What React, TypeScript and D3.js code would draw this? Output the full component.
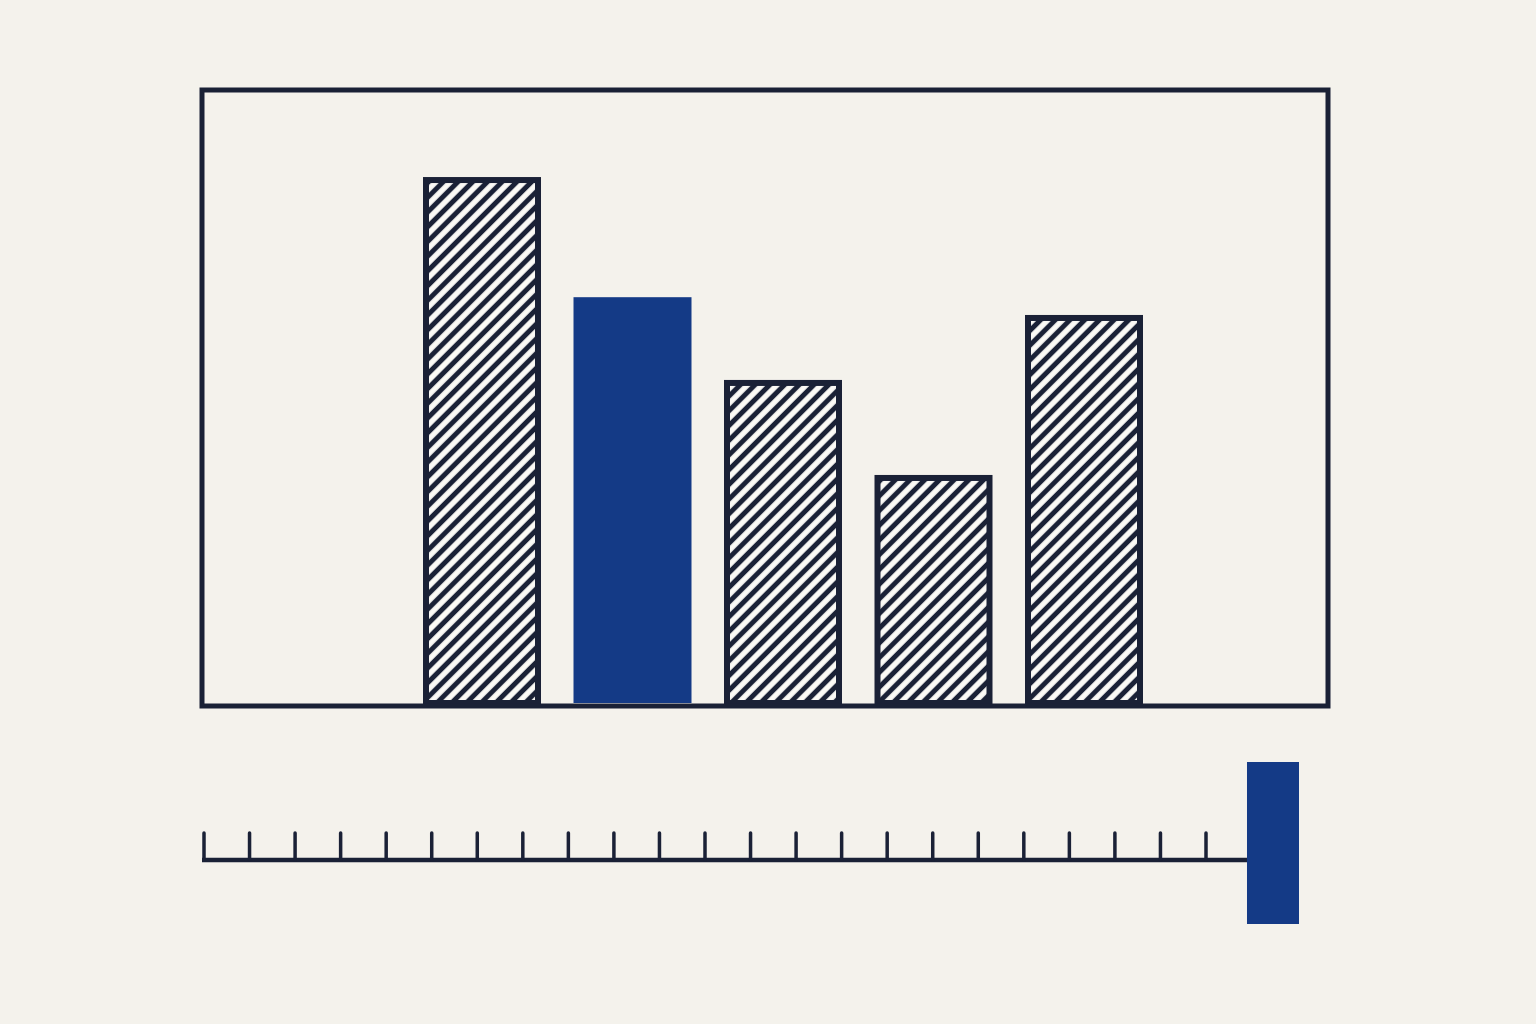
import { useMemo } from 'react';
import * as d3 from 'd3';

// bar chart values (0-100 scale)
const categories = ['A', 'B', 'C', 'D', 'E'];
const values = [85.8, 66.2, 52.7, 37.2, 63.3];
const highlighted = ['B'];

// ruler under the chart
const rulerTicks = d3.range(0, 23);
const markerValue = 22.9;

const W = 1536;
const H = 1024;
const INK = '#1a2136';
const BLUE = '#143a86';
const PAPER = '#f4f2ec';

const App: React.FC = () => {
    const frame = { x0: 202, x1: 1328, y0: 90, y1: 706 };
    const base = 703;

    const { x, y, r } = useMemo(() => {
        const x = d3.scaleBand<string>()
            .domain(categories)
            .range([423, 1143])
            .paddingInner(0.216)
            .paddingOuter(0);
        const y = d3.scaleLinear().domain([0, 100]).range([base, 90]);
        const r = d3.scaleLinear().domain([0, 22]).range([204, 1206]);
        return { x, y, r };
    }, []);

    const rulerY = 860;
    const markerW = 52;

    return (
        <div style={{ position: 'fixed', inset: 0, background: PAPER }}>
            <svg width={W} height={H} style={{ display: 'block' }}>
                <defs>
                    <pattern id="hatch" patternUnits="userSpaceOnUse" width={10.4} height={10.4}
                        patternTransform="rotate(-45)">
                        <rect width={10.4} height={10.4} fill="#fbfaf6" />
                        <line x1={0} y1={5.2} x2={10.4} y2={5.2} stroke={INK} strokeWidth={5} />
                    </pattern>
                </defs>
                <rect width={W} height={H} fill={PAPER} />

                {/* bars */}
                {categories.map((c, i) => {
                    const bx = x(c)!;
                    const bw = x.bandwidth();
                    const top = y(values[i]);
                    if (highlighted.includes(c)) {
                        return <rect key={c} x={bx} y={top} width={bw} height={base - top} fill={BLUE} />;
                    }
                    return (
                        <rect key={c} x={bx + 3} y={top + 3} width={bw - 6} height={base - top - 3}
                            fill="url(#hatch)" stroke={INK} strokeWidth={6} />
                    );
                })}

                {/* frame */}
                <rect x={frame.x0} y={frame.y0} width={frame.x1 - frame.x0} height={frame.y1 - frame.y0}
                    fill="none" stroke={INK} strokeWidth={5} />

                {/* ruler */}
                <line x1={202} x2={r(markerValue)} y1={rulerY} y2={rulerY} stroke={INK} strokeWidth={4.5} />
                {rulerTicks.map(t => (
                    <line key={t} x1={r(t)} x2={r(t)} y1={rulerY} y2={833} stroke={INK} strokeWidth={3.5}
                        strokeLinecap="round" />
                ))}
                <rect x={r(markerValue)} y={762} width={markerW} height={162} fill={BLUE} />
            </svg>
        </div>
    );
};

export default App;
